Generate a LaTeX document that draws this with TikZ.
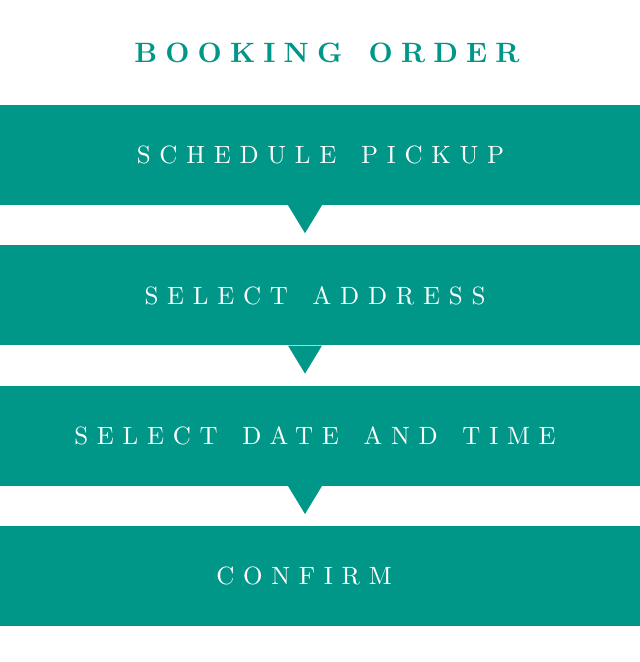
\documentclass[tikz,border=0pt]{standalone}
\usepackage{fontspec}
\usepackage{xcolor}
\usetikzlibrary{positioning}

\definecolor{bandgreen}{HTML}{009688}
\newfontfamily\bandfont{lmroman10-regular.otf}[LetterSpace=35,WordSpace=1.45]
\newfontfamily\headfont{lmroman10-bold.otf}[LetterSpace=29,WordSpace=1.4]

\begin{document}
\begin{tikzpicture}[%
    x=1pt,
    y=-1pt,
    node distance=40pt,
    band/.style={%
      rectangle,
      fill=bandgreen,
      minimum width=640pt,
      minimum height=100pt,
      inner sep=0pt
    },
    bandtext/.style={%
      inner sep=0pt,
      text=white,
      font=\bandfont\fontsize{25}{25}\selectfont
    },
    pointer/.style={fill=bandgreen}
  ]
    \useasboundingbox (0,0) rectangle (640,662);
    \node[text=bandgreen, font=\headfont\fontsize{28}{28}\selectfont] (title) at (327,53) {BOOKING ORDER};

    \node[band] (sched) at (320,155)   {};
    \node[band] (addr) [below=of sched] {};
    \node[band] (date) [below=of addr]  {};
    \node[band] (conf) [below=of date]  {};

    \node[bandtext] (schedtext) at ([xshift=0.5pt]sched.center) {SCHEDULE PICKUP};
    \node[bandtext] (addrtext) at ([xshift=-5pt]addr.center)    {SELECT ADDRESS};
    \node[bandtext] (datetext) at ([xshift=-5pt]date.center)    {SELECT DATE AND TIME};
    \node[bandtext] (conftext) at ([xshift=-16pt]conf.center)   {CONFIRM};

    % pointers between the bands
    \foreach \a in {sched,addr,date}
      \fill[pointer] ([xshift=-32pt]\a.south) -- ([xshift=2pt]\a.south)
                     -- ([xshift=-15pt,yshift=-28pt]\a.south) -- cycle;
  \end{tikzpicture}
\end{document}
